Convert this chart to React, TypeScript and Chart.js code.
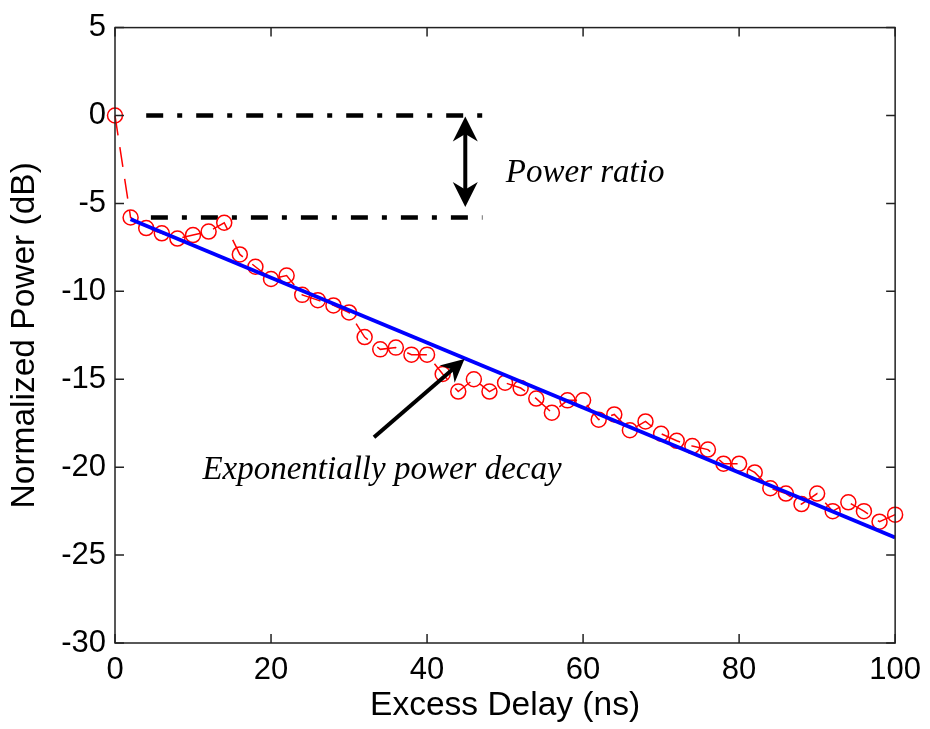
import React, { useEffect, useRef } from "react";
import { Chart, registerables } from "chart.js";

Chart.register(...registerables);

// Measured power delay profile (every 2 ns)
const delayNs = [
  0, 2, 4, 6, 8, 10, 12, 14, 16, 18, 20, 22, 24, 26, 28, 30, 32, 34, 36, 38, 40,
  42, 44, 46, 48, 50, 52, 54, 56, 58, 60, 62, 64, 66, 68, 70, 72, 74, 76, 78, 80,
  82, 84, 86, 88, 90, 92, 94, 96, 98, 100,
];
const measuredPowerDb = [
  0, -5.8, -6.4, -6.7, -7.0, -6.8, -6.6, -6.1, -7.9, -8.6, -9.3, -9.1, -10.2,
  -10.5, -10.8, -11.2, -12.6, -13.3, -13.2, -13.6, -13.6, -14.7, -15.7, -15.0,
  -15.7, -15.2, -15.5, -16.1, -16.9, -16.2, -16.2, -17.3, -17.0, -17.9, -17.4,
  -18.1, -18.5, -18.8, -19.0, -19.8, -19.8, -20.3, -21.2, -21.5, -22.1, -21.5,
  -22.5, -22.0, -22.5, -23.1, -22.7,
];

// Exponential decay fit (a straight line in dB)
const fitDelayNs = [2, 100];
const fitPowerDb = [-5.9, -24.0];

// Dash-dot reference levels bounding the power ratio
const ratioTopDelayNs = [4, 47.4];
const ratioTopDb = [0, 0];
const ratioBottomDelayNs = [4.6, 47.1];
const ratioBottomDb = [-5.8, -5.8];

// Axis ticks
const xTickValues = [0, 20, 40, 60, 80, 100];
const yTickValues = [5, 0, -5, -10, -15, -20, -25, -30];

// Annotation anchors (data coordinates)
const ratioArrowX = 44.9;
const ratioArrowTopDb = -0.05;
const ratioArrowBottomDb = -5.2;
const decayArrowFrom = { x: 33.2, y: -18.3 };
const decayArrowTo = { x: 44.8, y: -13.85 };
const ratioLabel = { x: 50.1, y: -3.8, text: "Power ratio" };
const decayLabel = { x: 11.2, y: -20.7, text: "Exponentially power decay" };

const TICK_FONT = { family: "'Liberation Sans', Arial, sans-serif", size: 31 };
const TITLE_FONT = { family: "'Liberation Sans', Arial, sans-serif", size: 33.5 };
const NOTE_FONT = "italic 33px 'Liberation Serif', 'Times New Roman', serif";

function drawArrowHead(
  ctx: CanvasRenderingContext2D,
  tipX: number,
  tipY: number,
  fromX: number,
  fromY: number,
  len: number,
  halfW: number
) {
  const ang = Math.atan2(tipY - fromY, tipX - fromX);
  const cos = Math.cos(ang);
  const sin = Math.sin(ang);
  const bx = tipX - len * cos;
  const by = tipY - len * sin;
  const ix = tipX - len * 0.7 * cos;
  const iy = tipY - len * 0.7 * sin;
  ctx.beginPath();
  ctx.moveTo(tipX, tipY);
  ctx.lineTo(bx - halfW * sin, by + halfW * cos);
  ctx.lineTo(ix, iy);
  ctx.lineTo(bx + halfW * sin, by - halfW * cos);
  ctx.closePath();
  ctx.fill();
}

const frameAndNotes = {
  id: "frameAndNotes",
  afterDraw(chart: any) {
    const { ctx, chartArea: a, scales } = chart;
    const xs = scales.x;
    const ys = scales.y;
    ctx.save();

    // box frame
    ctx.strokeStyle = "#222";
    ctx.lineWidth = 1.5;
    ctx.strokeRect(a.left, a.top, a.right - a.left, a.bottom - a.top);

    // inward ticks on all four sides
    const tl = 9;
    ctx.beginPath();
    for (const v of xTickValues) {
      const px = xs.getPixelForValue(v);
      ctx.moveTo(px, a.bottom);
      ctx.lineTo(px, a.bottom - tl);
      ctx.moveTo(px, a.top);
      ctx.lineTo(px, a.top + tl);
    }
    for (const v of yTickValues) {
      const py = ys.getPixelForValue(v);
      ctx.moveTo(a.left, py);
      ctx.lineTo(a.left + tl, py);
      ctx.moveTo(a.right, py);
      ctx.lineTo(a.right - tl, py);
    }
    ctx.stroke();

    // double-headed power ratio arrow
    ctx.strokeStyle = "#000";
    ctx.fillStyle = "#000";
    ctx.lineWidth = 4;
    const ax = xs.getPixelForValue(ratioArrowX);
    const ay1 = ys.getPixelForValue(ratioArrowTopDb);
    const ay2 = ys.getPixelForValue(ratioArrowBottomDb);
    ctx.beginPath();
    ctx.moveTo(ax, ay1 + 15);
    ctx.lineTo(ax, ay2 - 15);
    ctx.stroke();
    drawArrowHead(ctx, ax, ay1, ax, ay2, 25, 12.5);
    drawArrowHead(ctx, ax, ay2, ax, ay1, 25, 12.5);

    // arrow pointing at the fitted line
    const fx = xs.getPixelForValue(decayArrowFrom.x);
    const fy = ys.getPixelForValue(decayArrowFrom.y);
    const tx = xs.getPixelForValue(decayArrowTo.x);
    const ty = ys.getPixelForValue(decayArrowTo.y);
    const ang = Math.atan2(ty - fy, tx - fx);
    ctx.beginPath();
    ctx.moveTo(fx, fy);
    ctx.lineTo(tx - 14 * Math.cos(ang), ty - 14 * Math.sin(ang));
    ctx.stroke();
    drawArrowHead(ctx, tx, ty, fx, fy, 23, 11.5);

    // italic notes
    ctx.font = NOTE_FONT;
    ctx.textAlign = "left";
    ctx.textBaseline = "alphabetic";
    ctx.fillText(ratioLabel.text, xs.getPixelForValue(ratioLabel.x), ys.getPixelForValue(ratioLabel.y));
    ctx.fillText(decayLabel.text, xs.getPixelForValue(decayLabel.x), ys.getPixelForValue(decayLabel.y));

    ctx.restore();
  },
};

export default function App() {
  const canvasRef = useRef<HTMLCanvasElement | null>(null);

  useEffect(() => {
    const canvas = canvasRef.current;
    if (!canvas) return;
    const toPoints = (xv: number[], yv: number[]) => xv.map((x, i) => ({ x, y: yv[i] }));

    const chart = new Chart(canvas, {
      type: "line",
      data: {
        datasets: [
          {
            label: "Exponential fit",
            data: toPoints(fitDelayNs, fitPowerDb),
            borderColor: "#0000ff",
            borderWidth: 4,
            pointRadius: 0,
            fill: false,
            order: 0,
          },
          {
            label: "Measured",
            data: toPoints(delayNs, measuredPowerDb),
            borderColor: "#ff0000",
            borderWidth: 1.5,
            borderDash: [20, 12],
            pointStyle: "circle",
            pointRadius: 7.5,
            pointBorderWidth: 1.5,
            pointBorderColor: "#ff0000",
            pointBackgroundColor: "rgba(0,0,0,0)",
            fill: false,
            clip: false as any,
            order: 1,
          },
          {
            label: "Upper level",
            data: toPoints(ratioTopDelayNs, ratioTopDb),
            borderColor: "#000",
            borderWidth: 4.5,
            borderDash: [17, 14, 5, 14],
            pointRadius: 0,
            fill: false,
            order: 2,
          },
          {
            label: "Lower level",
            data: toPoints(ratioBottomDelayNs, ratioBottomDb),
            borderColor: "#000",
            borderWidth: 4.5,
            borderDash: [17, 14, 5, 14],
            pointRadius: 0,
            fill: false,
            order: 2,
          },
        ],
      },
      options: {
        responsive: false,
        animation: false,
        devicePixelRatio: 1,
        layout: { padding: { left: 0, right: 31, top: 26, bottom: 0 } },
        plugins: {
          legend: { display: false },
          tooltip: { enabled: false },
        },
        elements: { line: { tension: 0 } },
        scales: {
          x: {
            type: "linear",
            min: 0,
            max: 100,
            grid: { display: false, drawTicks: false },
            border: { display: false },
            ticks: {
              font: TICK_FONT,
              color: "#000",
              padding: 9,
              maxRotation: 0,
            },
            afterBuildTicks: (scale: any) => {
              scale.ticks = xTickValues.map((v) => ({ value: v }));
            },
            afterFit: (scale: any) => {
              scale.height = 86;
            },
            title: {
              display: true,
              text: "Excess Delay (ns)",
              font: TITLE_FONT,
              color: "#000",
              padding: { top: 0, bottom: 3 },
            },
          },
          y: {
            type: "linear",
            min: -30,
            max: 5,
            grid: { display: false, drawTicks: false },
            border: { display: false },
            ticks: {
              font: TICK_FONT,
              color: "#000",
              padding: 9,
            },
            afterBuildTicks: (scale: any) => {
              scale.ticks = yTickValues.map((v) => ({ value: v }));
            },
            afterFit: (scale: any) => {
              scale.width = 115;
            },
            title: {
              display: true,
              text: "Normalized Power (dB)",
              font: TITLE_FONT,
              color: "#000",
              padding: { top: 5, bottom: 0 },
            },
          },
        },
      },
      plugins: [frameAndNotes],
    });

    return () => chart.destroy();
  }, []);

  return (
    <div style={{ position: "absolute", left: 0, top: 0, width: 930, height: 729, background: "#fff" }}>
      <canvas ref={canvasRef} width={930} height={729} style={{ display: "block" }} />
    </div>
  );
}
